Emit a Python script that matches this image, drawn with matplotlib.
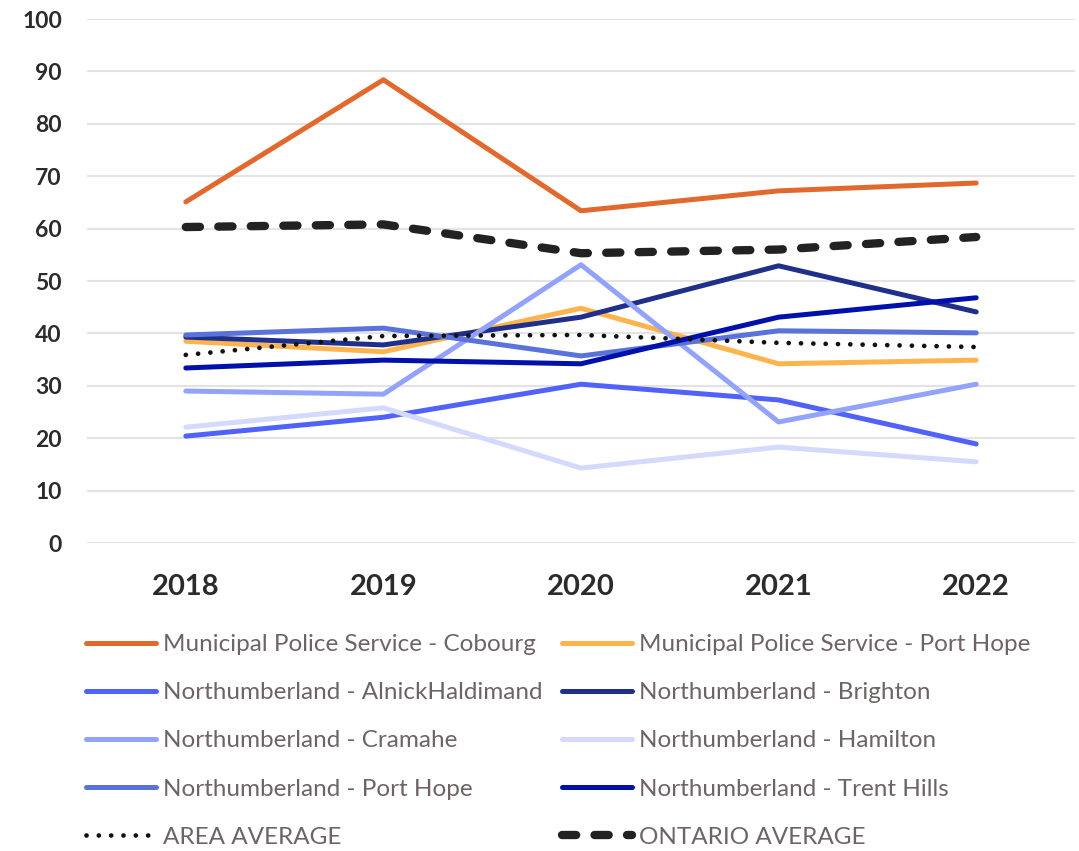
import matplotlib
matplotlib.use("Agg")
import matplotlib.pyplot as plt

plt.rcParams['font.family'] = ['Lato', 'DejaVu Sans']

years = ['2018', '2019', '2020', '2021', '2022']

cobourg = [65.1, 88.4, 63.4, 67.2, 68.7]
port_hope_mps = [38.5, 36.5, 44.8, 34.2, 34.9]
alnick = [20.4, 24.0, 30.3, 27.3, 18.9]
brighton = [39.3, 37.8, 43.1, 52.9, 44.1]
cramahe = [29.0, 28.4, 53.1, 23.1, 30.3]
hamilton = [22.1, 25.8, 14.3, 18.3, 15.5]
port_hope_nh = [39.7, 41.0, 35.7, 40.5, 40.1]
trent_hills = [33.4, 34.9, 34.2, 43.1, 46.8]
area_avg = [35.9, 39.5, 39.7, 38.2, 37.4]
ontario_avg = [60.3, 60.8, 55.3, 56.0, 58.4]

series = [
    ("Municipal Police Service - Cobourg", cobourg, "#E2692D"),
    ("Municipal Police Service - Port Hope", port_hope_mps, "#FDB44E"),
    ("Northumberland - AlnickHaldimand", alnick, "#5062FA"),
    ("Northumberland - Brighton", brighton, "#1F2F8A"),
    ("Northumberland - Cramahe", cramahe, "#93A3FC"),
    ("Northumberland - Hamilton", hamilton, "#D3DAFE"),
    ("Northumberland - Port Hope", port_hope_nh, "#5A72DA"),
    ("Northumberland - Trent Hills", trent_hills, "#0010AA"),
]

fig = plt.figure(figsize=(10.79, 8.51), dpi=100)
ax = fig.add_axes([87 / 1079, 1 - 543 / 851, 988 / 1079, 524 / 851])

x = range(len(years))
handles = []
for name, vals, col in series:
    h, = ax.plot(x, vals, color=col, lw=3.6, solid_capstyle='round', label=name)
    handles.append(h)

h_area, = ax.plot(x, area_avg, color='#111111', lw=3.4, linestyle=(0, (0.01, 2.6)),
                  dash_capstyle='round', label='AREA AVERAGE')
h_ont, = ax.plot(x, ontario_avg, color='#222222', lw=6, linestyle=(0, (1.7, 2.2)),
                 dash_capstyle='round', label='ONTARIO AVERAGE')

ax.set_xlim(-0.5, 4.5)
ax.set_ylim(0, 100)
ax.set_yticks(range(0, 101, 10))
ax.set_xticks(list(x))
ax.set_xticklabels(years)
ax.grid(axis='y', color='#e3e3e3', lw=1.5)
ax.set_axisbelow(True)
for s in ax.spines.values():
    s.set_visible(False)
ax.tick_params(axis='both', length=0, colors='#2b2b2b')
ax.tick_params(axis='y', pad=18, labelsize=16.5)
ax.tick_params(axis='x', pad=22, labelsize=21)
for t in ax.get_yticklabels() + ax.get_xticklabels():
    t.set_fontweight('bold')

# two legends side by side, rows read left to right
left = [handles[i] for i in (0, 2, 4, 6)] + [h_area]
right = [handles[i] for i in (1, 3, 5, 7)] + [h_ont]
for hs, x0 in ((left, 86), (right, 562)):
    leg = fig.legend(hs, [h.get_label() for h in hs],
                     loc='upper left', bbox_to_anchor=(x0 / 1079, 1 - 634 / 851),
                     frameon=False, fontsize=17.5, handlelength=2.9,
                     handletextpad=0.25, labelspacing=1.12,
                     borderpad=0, borderaxespad=0)
    for t in leg.get_texts():
        t.set_color('#6e6466')

fig.savefig('out.png', dpi=100)
